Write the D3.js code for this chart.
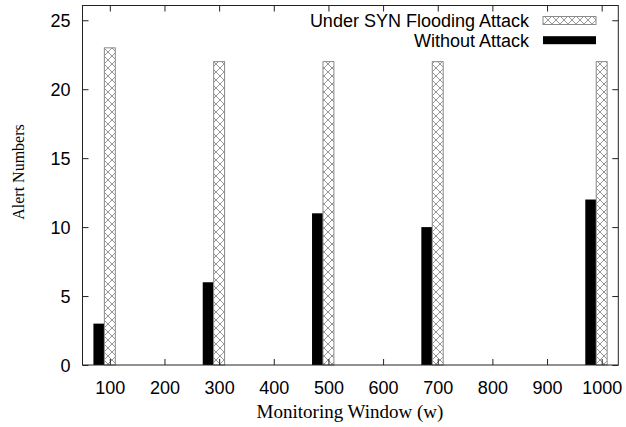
<!DOCTYPE html>
<html lang="en">
<head>
    <meta charset="UTF-8">
    <title>Alert Numbers vs Monitoring Window</title>
    <script src="https://d3js.org/d3.v7.min.js"></script>
    <style>
        body { margin: 0; background: #fff; }
        svg { display: block; }
        .tick-label { font-family: "Liberation Sans", Arial, sans-serif; font-size: 18px; fill: #000; }
        .axis-title { font-family: "Liberation Serif", "Times New Roman", serif; fill: #000; }
        .legend-text { font-family: "Liberation Sans", Arial, sans-serif; font-size: 18px; fill: #000; }
    </style>
</head>
<body>
<svg id="chart" width="626" height="427"></svg>
<script>
    const windows = [100, 300, 500, 700, 1000];
    const underAttack = [23, 22, 22, 22, 22];
    const withoutAttack = [3, 6, 11, 10, 12];
    const xTicks = [100, 200, 300, 400, 500, 600, 700, 800, 900, 1000];
    const yTicks = [0, 5, 10, 15, 20, 25];
    const seriesNames = ["Under SYN Flooding Attack", "Without Attack"];

    const plot = {left: 82.5, right: 618.3, top: 5.5, bottom: 365};

    const svg = d3.select("#chart");

    const x = d3.scaleLinear().domain([50, 1030.4]).range([plot.left, plot.right]);
    const y = d3.scaleLinear().domain([0, 26.07]).range([plot.bottom, plot.top]);

    // crosshatch pattern
    const defs = svg.append("defs");
    const pat = defs.append("pattern")
        .attr("id", "hatch")
        .attr("patternUnits", "userSpaceOnUse")
        .attr("width", 8).attr("height", 8);
    pat.append("rect").attr("width", 8).attr("height", 8).attr("fill", "#fff");
    pat.append("path")
        .attr("d", "M0,0 L8,8 M8,0 L0,8")
        .attr("stroke", "#8a8a8a").attr("stroke-width", 0.9);

    // bars
    svg.selectAll(".black-bar")
        .data(withoutAttack)
        .enter()
        .append("rect")
        .attr("class", "black-bar")
        .attr("x", (d, i) => x(windows[i] - 30))
        .attr("y", d => y(d))
        .attr("width", (d, i) => x(windows[i] - 10) - x(windows[i] - 30))
        .attr("height", d => y(0) - y(d))
        .attr("fill", "#000");

    svg.selectAll(".hatch-bar")
        .data(underAttack)
        .enter()
        .append("rect")
        .attr("class", "hatch-bar")
        .attr("x", (d, i) => x(windows[i] - 10))
        .attr("y", d => y(d))
        .attr("width", (d, i) => x(windows[i] + 10) - x(windows[i] - 10))
        .attr("height", d => y(0) - y(d))
        .attr("fill", "url(#hatch)")
        .attr("stroke", "#8a8a8a")
        .attr("stroke-width", 1);

    // axes (ticks inward, mirrored)
    const tickLen = 6;
    const xb = svg.append("g").attr("transform", `translate(0,${plot.bottom})`)
        .call(d3.axisBottom(x).tickValues(xTicks).tickFormat(d3.format("d")).tickSize(-tickLen).tickPadding(12));
    const xt = svg.append("g").attr("transform", `translate(0,${plot.top})`)
        .call(d3.axisTop(x).tickValues(xTicks).tickSize(-tickLen).tickFormat(""));
    const yl = svg.append("g").attr("transform", `translate(${plot.left},0)`)
        .call(d3.axisLeft(y).tickValues(yTicks).tickSize(-tickLen).tickPadding(12));
    const yr = svg.append("g").attr("transform", `translate(${plot.right},0)`)
        .call(d3.axisRight(y).tickValues(yTicks).tickSize(-tickLen).tickFormat(""));

    [xb, xt, yl, yr].forEach(g => {
        g.attr("font-size", null).attr("font-family", null);
        g.select(".domain").remove();
        g.selectAll(".tick line").attr("stroke", "#222");
        g.selectAll(".tick text").attr("class", "tick-label");
    });
    xb.selectAll(".tick text").attr("dy", "0.95em");
    yl.selectAll(".tick text").attr("dy", "0.35em");

    // frame
    svg.append("rect")
        .attr("x", plot.left).attr("y", plot.top)
        .attr("width", plot.right - plot.left).attr("height", plot.bottom - plot.top)
        .attr("fill", "none").attr("stroke", "#222").attr("stroke-width", 1);

    // axis titles
    svg.append("text").attr("class", "axis-title")
        .attr("x", 350).attr("y", 418)
        .attr("font-size", 19)
        .attr("text-anchor", "middle")
        .text("Monitoring Window (w)");
    svg.append("text").attr("class", "axis-title")
        .attr("transform", "translate(23.5,172) rotate(-90)")
        .attr("font-size", 16)
        .attr("text-anchor", "middle")
        .text("Alert Numbers");

    // legend
    const legend = svg.append("g");
    const rows = [
        {name: seriesNames[0], fill: "url(#hatch)", stroke: "#8a8a8a", cy: 20.5},
        {name: seriesNames[1], fill: "#000", stroke: "none", cy: 40.2}
    ];
    rows.forEach(r => {
        legend.append("text").attr("class", "legend-text")
            .attr("x", 529).attr("y", r.cy).attr("dy", "0.35em")
            .attr("text-anchor", "end")
            .text(r.name);
        legend.append("rect")
            .attr("x", 543).attr("y", r.cy - 4)
            .attr("width", 53).attr("height", 8)
            .attr("fill", r.fill).attr("stroke", r.stroke);
    });
</script>
</body>
</html>
